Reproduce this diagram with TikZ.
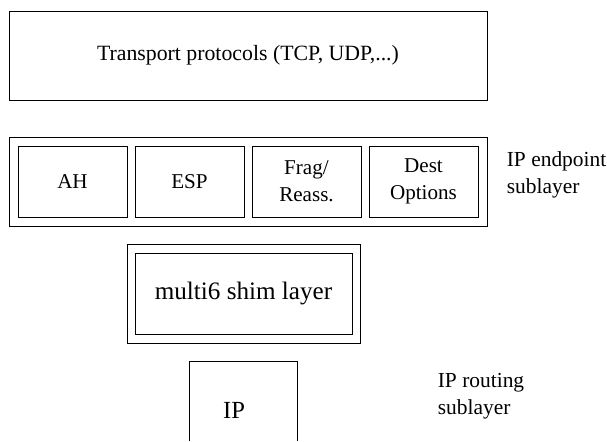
\documentclass[tikz,border=0pt]{standalone}
\usepackage{fontspec}
\setmainfont{Liberation Serif}
\usepackage{tikz}
\usetikzlibrary{positioning, fit}

\begin{document}
\begin{tikzpicture}[
	every node/.append style={outer sep=0pt},
	layerbox/.style={draw=black, line width=0.5pt, shape=rectangle, align=center, font=\fontsize{12.4}{14}\selectfont},
	subbox/.style={layerbox, minimum width=2.18cm, minimum height=1.42cm, inner sep=0pt, font=\fontsize{12}{15.3}\selectfont},
	sidelabel/.style={anchor=west, align=left, font=\fontsize{12.2}{15.6}\selectfont}]

	\useasboundingbox (0,0) rectangle (12.14,8.82);

	\node[layerbox, minimum width=9.56cm, minimum height=1.78cm] (transport) at (4.96,7.71) {Transport protocols (TCP, UDP,...)};

	\node[subbox] (AH) at (1.45,5.19) {AH};
	\node[subbox, right=0.16cm of AH] (ESP) {ESP};
	\node[subbox, right=0.16cm of ESP] (FRAG) {Frag/\\Reass.};
	\node[subbox, right=0.16cm of FRAG] (DEST) {Dest\\Options};
	\node[layerbox, fit={(AH) (ESP) (FRAG) (DEST)}, inner xsep=0.18cm, inner ysep=0.18cm] (endpoint) {};
	\node[sidelabel] (endpointlabel) at (10.02,5.32) {IP endpoint\\sublayer};

	\node[layerbox, minimum width=4.34cm, minimum height=1.62cm, font=\fontsize{14.3}{16}\selectfont] (shim) at (4.87,2.95) {multi6 shim layer};
	\node[layerbox, fit={(shim)}, inner xsep=0.16cm, inner ysep=0.18cm] (shimouter) {};

	\node[font=\fontsize{14}{16}\selectfont] (IP) at (4.68,0.62) {IP};
	\draw[line width=0.5pt] (3.78,0) |- (5.94,1.60) -- (5.94,0);
	\node[sidelabel] (routinglabel) at (8.64,0.90) {IP routing\\sublayer};
\end{tikzpicture}
\end{document}
